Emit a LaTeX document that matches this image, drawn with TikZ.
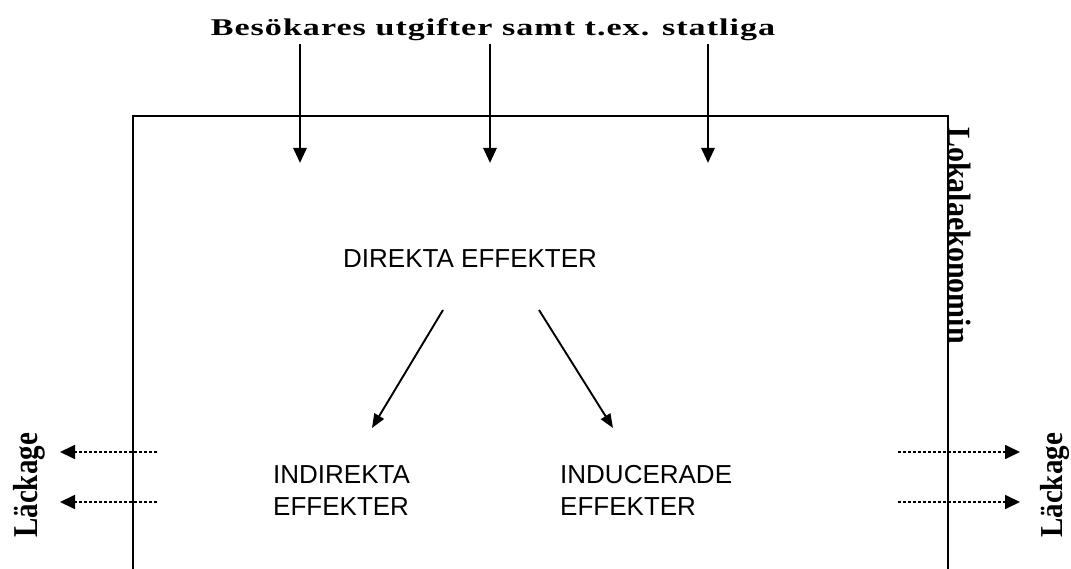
\documentclass[tikz,border=0pt]{standalone}
\usepackage{fontspec}
\setmainfont{Liberation Serif}
\newfontfamily\arialf{Liberation Sans}
\usetikzlibrary{arrows.meta}
\tikzset{
  frameline/.style={line width=2.6pt},
  bigarrow/.style={line width=2.8pt,-{Triangle[length=15pt,width=13pt]}},
  diagarrow/.style={line width=1.9pt,-{Triangle[length=14pt,width=11pt]}},
  leakarrow/.style={line width=1.7pt,dash pattern=on 3pt off 2pt,-{Triangle[length=15pt,width=14pt]}},
  sanslabel/.style={font=\arialf\fontsize{26}{32}\selectfont,inner sep=0pt,align=left},
  serifbold/.style={inner sep=0pt}
}
\begin{document}
\begin{tikzpicture}[x=1pt,y=-1pt]
\useasboundingbox (0,0) rectangle (1071,569);
% frame (open at bottom)
\coordinate (bl) at (133,569);
\coordinate (tl) at (133,116);
\coordinate (tr) at (948,116);
\coordinate (br) at (948,569);
\draw[frameline] (bl) -- (tl) -- (tr) -- (br);
% title
\node[serifbold,anchor=base] (title) at (493,36)
  {\scalebox{1.42}[1]{\fontsize{24}{28}\selectfont\bfseries\addfontfeature{LetterSpace=3}Besökares utgifter samt t.ex. statliga}};
% top arrows
\coordinate (a1s) at (300,44); \coordinate (a1e) at (300,163);
\coordinate (a2s) at (490,44); \coordinate (a2e) at (490,163);
\coordinate (a3s) at (708,44); \coordinate (a3e) at (708,163);
\draw[bigarrow] (a1s) -- (a1e);
\draw[bigarrow] (a2s) -- (a2e);
\draw[bigarrow] (a3s) -- (a3e);
% texts
\node[sanslabel,anchor=base west] (dir) at (343,268) {DIREKTA EFFEKTER};
\node[sanslabel,anchor=north west] (ind) at (273,465) {INDIREKTA\\EFFEKTER};
\node[sanslabel,anchor=north west] (inc) at (560,465) {INDUCERADE\\EFFEKTER};
% diagonal arrows
\coordinate (d1s) at (443,310); \coordinate (d1e) at (372,428);
\coordinate (d2s) at (539,310); \coordinate (d2e) at (613,428);
\draw[diagarrow] (d1s) -- (d1e);
\draw[diagarrow] (d2s) -- (d2e);
% leakage arrows
\coordinate (l1s) at (157,452); \coordinate (l1e) at (60,452);
\coordinate (l2s) at (157,502); \coordinate (l2e) at (60,502);
\coordinate (r1s) at (898,452); \coordinate (r1e) at (1020,452);
\coordinate (r2s) at (898,502); \coordinate (r2e) at (1020,502);
\draw[leakarrow] (l1s) -- (l1e);
\draw[leakarrow] (l2s) -- (l2e);
\draw[leakarrow] (r1s) -- (r1e);
\draw[leakarrow] (r2s) -- (r2e);
% rotated labels
\node[serifbold,anchor=base west,rotate=-90] (lok) at (948,127)
  {\scalebox{1}[1.08]{\fontsize{30}{34}\selectfont\bfseries Lokalaekonomin}};
\node[serifbold,anchor=base west,rotate=90] (lackL) at (37,538)
  {\scalebox{1}[1.2]{\fontsize{29}{34}\selectfont\bfseries Läckage}};
\node[serifbold,anchor=base west,rotate=90] (lackR) at (1062,538)
  {\scalebox{1}[1.1]{\fontsize{29}{34}\selectfont\bfseries Läckage}};
\end{tikzpicture}
\end{document}
